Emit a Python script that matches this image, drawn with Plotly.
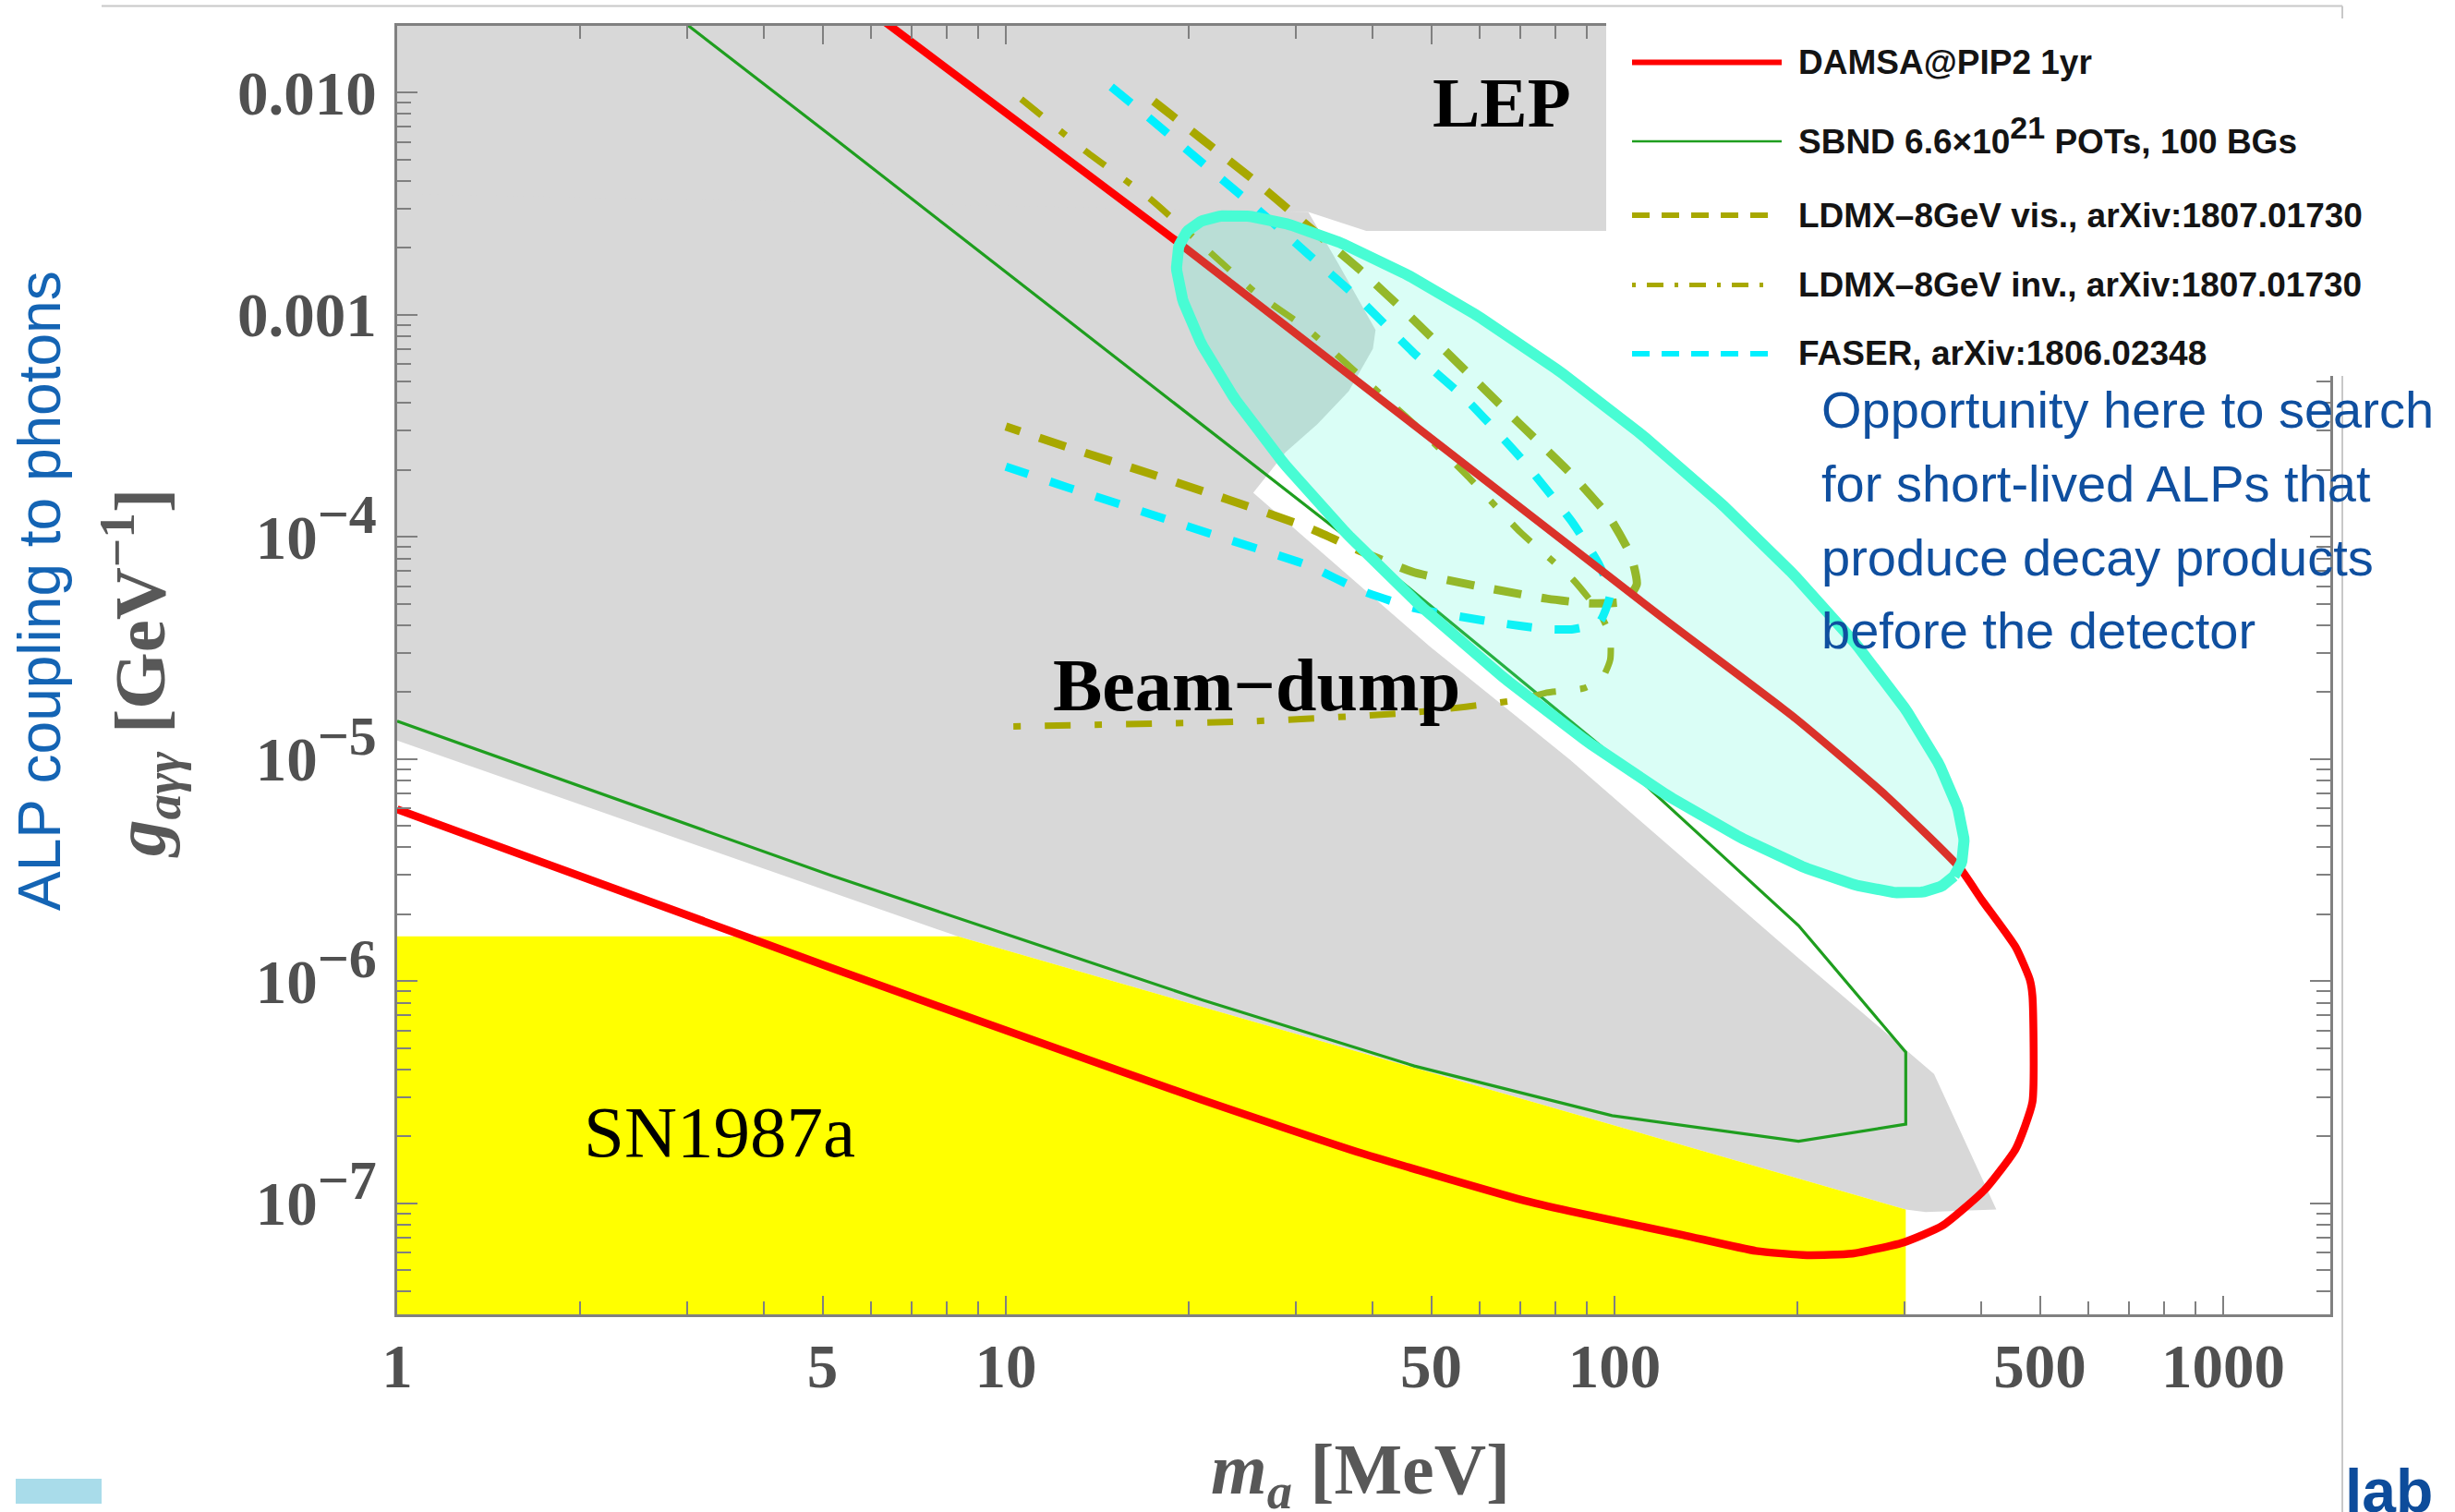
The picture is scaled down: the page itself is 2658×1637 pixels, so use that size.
import numpy as np
import plotly.graph_objects as go

# ---------------------------------------------------------------------------
# Data: ALP mass m_a [MeV] and photon coupling g_agg [GeV^-1]
# ---------------------------------------------------------------------------

# DAMSA@PIP2, 1 yr : closed sensitivity contour
damsa_mass = [6.13, 19.0, 119.7, 198.5, 279.0, 368.6, 401.7, 456.4, 481.0, 486.0,
              486.0, 456.4, 405.8, 345.5, 297.8, 245.7, 207.1, 170.9, 129.5,
              84.6, 70.0, 38.4, 21.0, 10.0, 5.16, 1.0]
damsa_g = [2.22e-2, 2.16e-3, 4.34e-5, 1.52e-5, 6.86e-6, 3.25e-6, 2.31e-6, 1.42e-6,
           1.02e-6, 8.6e-7, 2.85e-7, 1.76e-7, 1.15e-7, 7.91e-8, 6.65e-8, 5.93e-8,
           5.84e-8, 6.10e-8, 7.20e-8, 9.20e-8, 1.04e-7, 1.68e-7, 2.92e-7, 6.00e-7,
           1.15e-6, 5.93e-6]

# SBND 6.6e21 POT, 100 background events
sbnd_mass = [2.84, 5.16, 38.4, 102.4, 200.6, 301.0, 301.0, 200.6, 99.1, 46.9,
             21.0, 5.16, 1.0]
sbnd_g = [2.26e-2, 6.38e-3, 8.83e-5, 9.64e-6, 1.78e-6, 4.79e-7, 2.27e-7, 1.90e-7,
          2.48e-7, 4.15e-7, 8.24e-7, 2.99e-6, 1.48e-5]

# LDMX 8 GeV, visible decays (arXiv:1807.01730)
ldmx_vis_mass = [17.5, 21.0, 25.7, 31.4, 38.4, 46.9, 57.3, 70.0, 85.5, 98.4, 106.5,
                 108.8, 104.0, 90.8, 77.4, 63.3, 46.9, 38.4, 31.4, 23.2, 17.2, 12.7, 10.0]
ldmx_vis_g = [9.13e-3, 6.17e-3, 3.98e-3, 2.50e-3, 1.57e-3, 9.41e-4, 5.50e-4, 3.21e-4,
              1.88e-4, 1.21e-4, 8.18e-5, 6.11e-5, 5.13e-5, 5.02e-5, 5.27e-5, 5.81e-5,
              6.91e-5, 8.59e-5, 1.10e-4, 1.47e-4, 1.93e-4, 2.52e-4, 3.14e-4]

# LDMX 8 GeV, invisible mode (arXiv:1807.01730)
ldmx_inv_mass = [10.6, 13.5, 17.2, 21.0, 25.7, 31.4, 38.4, 46.9, 57.3, 70.0, 85.5,
                 94.5, 98.4, 98.4, 95.4, 89.0, 77.4, 70.0, 46.9, 25.7, 10.0]
ldmx_inv_g = [9.35e-3, 5.47e-3, 3.35e-3, 2.06e-3, 1.26e-3, 8.54e-4, 5.24e-4, 3.21e-4,
              1.88e-4, 1.05e-4, 6.42e-5, 4.56e-5, 3.57e-5, 2.80e-5, 2.30e-5, 2.08e-5,
              1.99e-5, 1.85e-5, 1.62e-5, 1.48e-5, 1.40e-5]

# FASER (arXiv:1806.02348)
faser_mass = [14.9, 17.2, 21.0, 25.7, 31.4, 38.4, 46.9, 57.3, 70.0, 85.5, 94.5, 98.4,
              94.5, 85.5, 77.4, 63.3, 46.9, 38.4, 31.4, 23.2, 17.2, 12.7, 10.0]
faser_g = [1.06e-2, 7.69e-3, 4.84e-3, 3.04e-3, 1.87e-3, 1.15e-3, 6.69e-4, 4.11e-4,
           2.28e-4, 1.15e-4, 7.43e-5, 5.54e-5, 4.13e-5, 3.84e-5, 3.84e-5, 4.13e-5,
           4.78e-5, 5.72e-5, 7.43e-5, 9.72e-5, 1.27e-4, 1.66e-4, 2.07e-4]

# Existing exclusions
lep_mass = [1.0, 2000.0, 2000.0, 39.1, 31.4, 1.0]
lep_g = [3e-2, 3e-2, 2.38e-3, 2.38e-3, 2.90e-3, 2.90e-3]

beamdump_mass = [1.0, 31.4, 35.2, 40.5, 40.1, 36.6, 32.5, 28.8, 25.5, 49.8, 84.5,
                 198.5, 335.0, 424.0, 324.5, 301.0, 8.34, 1.0]
beamdump_g = [3.5e-3, 2.90e-3, 1.69e-3, 8.54e-4, 7.03e-4, 4.53e-4, 3.21e-4, 2.40e-4,
              1.58e-4, 3.20e-5, 9.93e-6, 1.30e-6, 3.82e-7, 9.38e-8, 9.13e-8, 9.38e-8,
              1.59e-6, 1.21e-5]

sn1987a_mass = [1.0, 1.0, 8.34, 301.0, 301.0]
sn1987a_g = [1e-8, 1.59e-6, 1.59e-6, 9.38e-8, 1e-8]

# Highlighted opportunity region (tilted ellipse)
ell_center_mass, ell_center_g = 84.6, 8.35e-5
ell_semi_major, ell_semi_minor = 0.823, 0.226   # in decades of mass on screen
ell_tilt_deg = 40.0

# Axis ticks
x_major = [1, 5, 10, 50, 100, 500, 1000]
x_major_text = ["1", "5", "10", "50", "100", "500", "1000"]
x_minor = [2, 3, 4, 6, 7, 8, 9, 20, 30, 40, 60, 70, 80, 90, 200, 300, 400, 600, 700, 800, 900]
y_major = [1e-7, 1e-6, 1e-5, 1e-4, 1e-3, 1e-2]
y_exponents = [-7, -6, -5, -4]
y_plain_text = ["0.001", "0.010"]
y_minor = [k * 10.0 ** e for e in range(-8, -1) for k in range(2, 10)]

# ---------------------------------------------------------------------------
# Figure geometry
# ---------------------------------------------------------------------------
W, H = 2658, 1637
PL, PR, PT, PB = 430, 2523, 28, 1423          # plot area edges in pixels
X_RANGE = [0.0, np.log10(1500.0)]
Y_RANGE = [-7.5, -1.7]

def fx(px):
    return (px - PL) / (PR - PL)

def fy(py):
    return (PB - py) / (PB - PT)

def power_label(exp, sup_px):
    return "10<sup><span style='font-size:%dpx'>\u2212%d</span></sup>" % (sup_px, -exp)

FRAME = "#808080"
TICKTXT = "#505050"
RED = "#ff0000"
GREEN = "#1f9e1f"
OLIVE = "#a8a800"
CYAN = "#00f0ff"
TEAL = "rgb(72,252,212)"
TEAL_FILL = "rgba(72,252,212,0.2)"
GRAY = "#d8d8d8"

fig = go.Figure()

# exclusion regions
fig.add_trace(go.Scatter(x=lep_mass, y=lep_g, fill="toself", fillcolor=GRAY,
                         mode="lines", line=dict(width=0, color=GRAY), hoverinfo="skip"))
fig.add_trace(go.Scatter(x=beamdump_mass, y=beamdump_g, fill="toself", fillcolor=GRAY,
                         mode="lines", line=dict(width=0, color=GRAY), hoverinfo="skip"))
fig.add_trace(go.Scatter(x=sn1987a_mass, y=sn1987a_g, fill="toself", fillcolor="#ffff00",
                         mode="lines", line=dict(width=0, color="#ffff00"), hoverinfo="skip"))

# projections
fig.add_trace(go.Scatter(x=sbnd_mass, y=sbnd_g, mode="lines",
                         line=dict(color=GREEN, width=3.2)))
fig.add_trace(go.Scatter(x=ldmx_vis_mass, y=ldmx_vis_g, mode="lines",
                         line=dict(color=OLIVE, width=9, dash="30px,22px",
                                   shape="spline", smoothing=0.5)))
fig.add_trace(go.Scatter(x=ldmx_inv_mass, y=ldmx_inv_g, mode="lines",
                         line=dict(color=OLIVE, width=7, dash="28px,26px,8px,26px",
                                   shape="spline", smoothing=0.5)))
fig.add_trace(go.Scatter(x=faser_mass, y=faser_g, mode="lines",
                         line=dict(color=CYAN, width=9, dash="27px,25px",
                                   shape="spline", smoothing=0.5)))
fig.add_trace(go.Scatter(x=damsa_mass, y=damsa_g, mode="lines",
                         line=dict(color=RED, width=8.5, shape="spline", smoothing=0.5)))

# tilted ellipse, built in screen-proportional log space
dec_x_px = (PR - PL) / (X_RANGE[1] - X_RANGE[0])
dec_y_px = (PB - PT) / (Y_RANGE[1] - Y_RANGE[0])
k = dec_x_px / dec_y_px
t = np.linspace(0, 2 * np.pi, 361)
th = np.radians(ell_tilt_deg)
du = ell_semi_major * np.cos(t)
dv = ell_semi_minor * np.sin(t)
dx = du * np.cos(th) - dv * np.sin(th)
dy_down = du * np.sin(th) + dv * np.cos(th)
ell_x = 10 ** (np.log10(ell_center_mass) + dx)
ell_y = 10 ** (np.log10(ell_center_g) - dy_down * k)
fig.add_trace(go.Scatter(x=ell_x, y=ell_y, mode="lines", fill="toself",
                         fillcolor=TEAL_FILL, line=dict(color=TEAL, width=12),
                         hoverinfo="skip"))

tickfont = dict(family="Liberation Serif", size=67, color=TICKTXT, weight="bold")
fig.update_xaxes(type="log", range=X_RANGE, tickmode="array", tickvals=x_major,
                 ticktext=x_major_text, ticks="inside", ticklen=20, tickwidth=2,
                 tickcolor=FRAME, showline=True, linecolor=FRAME, linewidth=2.5,
                 mirror="ticks", showgrid=False, zeroline=False, tickfont=tickfont,
                 ticklabelstandoff=-4, automargin=False,
                 minor=dict(tickvals=x_minor, ticks="inside", ticklen=14, tickwidth=2,
                            tickcolor=FRAME, showgrid=False))
fig.update_yaxes(type="log", range=Y_RANGE, tickmode="array", tickvals=y_major,
                 ticktext=[power_label(e, 60) for e in y_exponents] + y_plain_text,
                 ticks="inside", ticklen=22, tickwidth=2,
                 tickcolor=FRAME, showline=True, linecolor=FRAME, linewidth=2.5,
                 mirror="ticks", showgrid=False, zeroline=False, tickfont=tickfont,
                 ticklabelstandoff=6, automargin=False,
                 minor=dict(tickvals=y_minor, ticks="inside", ticklen=15, tickwidth=2,
                            tickcolor=FRAME, showgrid=False))

# ---------------------------------------------------------------------------
# Shapes: page frame, legend panel and legend keys
# ---------------------------------------------------------------------------
shapes = []
LIGHT = "#c8c8c8"
shapes.append(dict(type="line", xref="paper", yref="paper", x0=fx(110), x1=fx(2536),
                   y0=fy(6.5), y1=fy(6.5), line=dict(color=LIGHT, width=2), layer="above"))
shapes.append(dict(type="line", xref="paper", yref="paper", x0=fx(2536), x1=fx(2536),
                   y0=fy(6.5), y1=fy(1645), line=dict(color=LIGHT, width=2), layer="above"))
shapes.append(dict(type="rect", xref="paper", yref="paper", x0=fx(1739), x1=fx(2658),
                   y0=fy(20), y1=fy(407), fillcolor="white", line=dict(width=0),
                   layer="above"))
shapes.append(dict(type="rect", xref="paper", yref="paper", x0=fx(17), x1=fx(110),
                   y0=fy(1601), y1=fy(1628), fillcolor="#a9dcea", line=dict(width=0),
                   layer="above"))

legend_rows = [67.5, 153, 233, 308.5, 383]
legend_text_shift = [0, -6, 0, 0, 0]
legend_keys = [
    dict(color=RED, width=6, dash="solid", x1=1929),
    dict(color=GREEN, width=2.5, dash="solid", x1=1929),
    dict(color=OLIVE, width=6, dash="19px,13px", x1=1918),
    dict(color=OLIVE, width=5, dash="4px,12px,18px,12px", x1=1918),
    dict(color=CYAN, width=6, dash="19px,13px", x1=1918),
]
for row, key in zip(legend_rows, legend_keys):
    shapes.append(dict(type="line", xref="paper", yref="paper", x0=fx(1767),
                       x1=fx(key["x1"]), y0=fy(row), y1=fy(row),
                       line=dict(color=key["color"], width=key["width"], dash=key["dash"]),
                       layer="above"))

legend_labels = [
    "DAMSA@PIP2 1yr",
    "SBND 6.6\u00d710<sup><span style='font-size:34px'>21</span></sup> POTs, 100 BGs",
    "LDMX\u20138GeV vis., arXiv:1807.01730",
    "LDMX\u20138GeV inv., arXiv:1807.01730",
    "FASER, arXiv:1806.02348",
]

annotations = []
for row, shift, lab in zip(legend_rows, legend_text_shift, legend_labels):
    annotations.append(dict(xref="paper", yref="paper", x=fx(1945), y=fy(row + shift),
                            xanchor="left", yanchor="middle", text=lab, showarrow=False,
                            font=dict(family="Liberation Sans", size=37, color="#141414",
                                      weight="bold")))

# region labels (data coordinates; log axes take log10 positions)
serif_black = dict(family="Liberation Serif", color="#000000")
annotations.append(dict(x=np.log10(65.2), y=np.log10(9.0e-3), text="LEP", showarrow=False,
                        xanchor="center", yanchor="middle",
                        font=dict(size=77, weight="bold", **serif_black)))
annotations.append(dict(x=np.log10(25.8), y=np.log10(2.14e-5), text="Beam\u2212dump",
                        showarrow=False, xanchor="center", yanchor="middle",
                        font=dict(size=80, weight="bold", **serif_black)))
annotations.append(dict(x=np.log10(3.38), y=np.log10(2.1e-7), text="SN1987a",
                        showarrow=False, xanchor="center", yanchor="middle",
                        font=dict(size=79, **serif_black)))

# axis titles
annotations.append(dict(xref="paper", yref="paper", x=fx(1473), y=fy(1596),
                        text="<i>m</i><sub><i>a</i></sub> [MeV]", showarrow=False,
                        xanchor="center", yanchor="middle",
                        font=dict(family="Liberation Serif", size=78, color="#585858",
                                  weight="bold")))
annotations.append(dict(xref="paper", yref="paper", x=fx(151), y=fy(729),
                        text="<i>g</i><sub><i>a\u03b3\u03b3</i></sub> [GeV<sup>\u22121</sup>]",
                        showarrow=False, textangle=-90, xanchor="center", yanchor="middle",
                        font=dict(family="Liberation Serif", size=79, color="#585858",
                                  weight="bold")))

# slide annotations
annotations.append(dict(xref="paper", yref="paper", x=fx(43), y=fy(640),
                        text="ALP coupling to photons", showarrow=False, textangle=-90,
                        xanchor="center", yanchor="middle",
                        font=dict(family="Liberation Sans", size=64, color="#1464b4")))
note_lines = ["Opportunity here to search", "for short-lived ALPs that",
              "produce decay products", "before the detector"]
for i, line in enumerate(note_lines):
    annotations.append(dict(xref="paper", yref="paper", x=fx(1970), y=fy(444 + 79.5 * i),
                            text=line, showarrow=False, xanchor="left", yanchor="middle",
                            font=dict(family="Liberation Sans", size=56, color="#0f4f9f")))
annotations.append(dict(xref="paper", yref="paper", x=fx(2537), y=fy(1614), text="lab",
                        showarrow=False, xanchor="left", yanchor="middle",
                        font=dict(family="Liberation Sans", size=66, color="#0d4c9b",
                                  weight="bold")))

fig.update_layout(width=W, height=H, autosize=False, template="none",
                  margin=dict(l=PL, r=W - PR, t=PT, b=H - PB, pad=0),
                  paper_bgcolor="white", plot_bgcolor="white", showlegend=False,
                  shapes=shapes, annotations=annotations)

fig.write_html("out.html")
